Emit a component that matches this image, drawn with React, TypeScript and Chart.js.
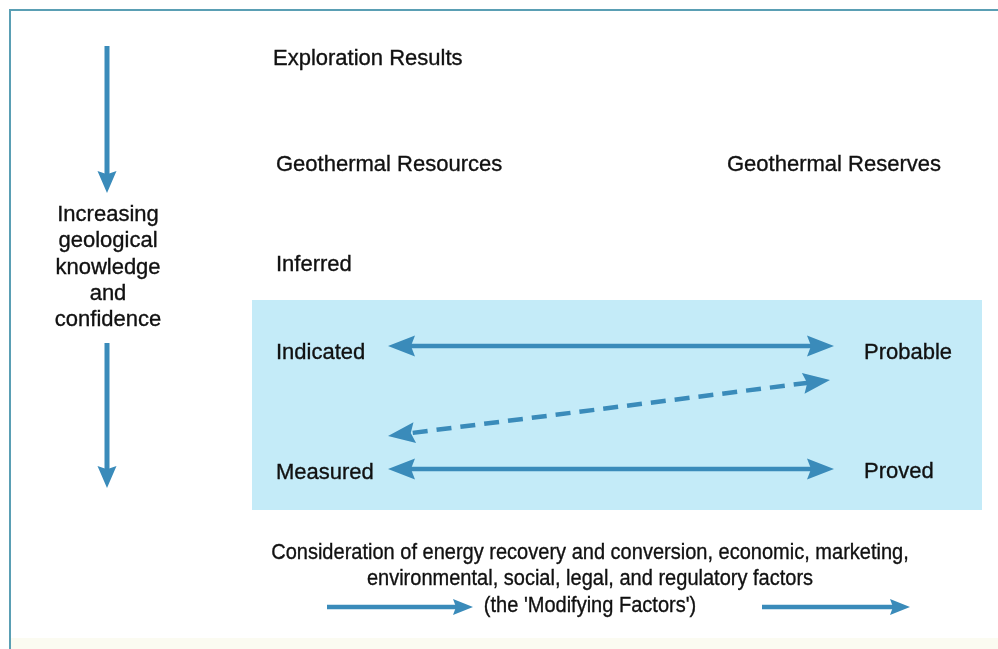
import React, { useEffect, useRef } from "react";
import { Chart, registerables } from "chart.js";

Chart.register(...registerables);

// ---- content ----
const headerLabels = ["Exploration Results"];
const categoryLabels = ["Geothermal Resources", "Geothermal Reserves"];
const resourceLevels = ["Inferred", "Indicated", "Measured"];
const reserveLevels = ["Probable", "Proved"];
const confidenceLines = ["Increasing", "geological", "knowledge", "and", "confidence"];
const modifyingLines = [
  "Consideration of energy recovery and conversion, economic, marketing,",
  "environmental, social, legal, and regulatory factors",
  "(the 'Modifying Factors')",
];

// ---- layout (diagram coordinates, 1 unit = 1 px) ----
const W = 998;
const H = 649;
const BLUE = "#3a8bba";
const BOX = "#c4ebf8";
const FRAME = "#5a9fb4";
const TEXT = "#111111";
const FONT = '"Liberation Sans", Arial, sans-serif';

type Arrow = { x1: number; y1: number; x2: number; y2: number; both: boolean; dashed: boolean; head: number; half: number; w: number };
const arrows: Arrow[] = [
  { x1: 107, y1: 46, x2: 107, y2: 193, both: false, dashed: false, head: 22, half: 9.5, w: 5 },
  { x1: 107, y1: 343, x2: 107, y2: 488, both: false, dashed: false, head: 22, half: 9.5, w: 5 },
  { x1: 388, y1: 346, x2: 834, y2: 346, both: true, dashed: false, head: 27, half: 10.5, w: 4.5 },
  { x1: 388, y1: 469, x2: 834, y2: 469, both: true, dashed: false, head: 27, half: 10.5, w: 4.5 },
  { x1: 830, y1: 380, x2: 388, y2: 436, both: true, dashed: true, head: 27, half: 10.5, w: 4.5 },
  { x1: 327, y1: 607, x2: 473, y2: 607, both: false, dashed: false, head: 20, half: 8, w: 4.5 },
  { x1: 762, y1: 607, x2: 910, y2: 607, both: false, dashed: false, head: 20, half: 8, w: 4.5 },
];

function shaft(a: Arrow) {
  const dx = a.x2 - a.x1;
  const dy = a.y2 - a.y1;
  const len = Math.hypot(dx, dy);
  const ux = dx / len;
  const uy = dy / len;
  const cut = 0.8;
  const s = a.both ? a.head * cut : 0;
  const e = a.head * cut;
  return [
    { x: a.x1 + ux * s, y: a.y1 + uy * s },
    { x: a.x2 - ux * e, y: a.y2 - uy * e },
  ];
}

const diagramPlugin = {
  id: "diagram",
  beforeDatasetsDraw(chart: any) {
    const { ctx, scales } = chart;
    const X = (v: number) => scales.x.getPixelForValue(v);
    const Y = (v: number) => scales.y.getPixelForValue(v);
    ctx.save();
    ctx.fillStyle = "#fbfbf1";
    ctx.fillRect(X(11), Y(638), X(W) - X(11), Y(H) - Y(638));
    ctx.strokeStyle = FRAME;
    ctx.lineWidth = 2;
    ctx.beginPath();
    ctx.moveTo(X(W + 5), Y(10));
    ctx.lineTo(X(10), Y(10));
    ctx.lineTo(X(10), Y(H + 5));
    ctx.stroke();
    ctx.fillStyle = BOX;
    ctx.fillRect(X(252), Y(300), X(982) - X(252), Y(510) - Y(300));
    ctx.restore();
  },
  afterDatasetsDraw(chart: any) {
    const { ctx, scales } = chart;
    const X = (v: number) => scales.x.getPixelForValue(v);
    const Y = (v: number) => scales.y.getPixelForValue(v);
    ctx.save();
    ctx.fillStyle = BLUE;
    const headAt = (tx: number, ty: number, fx: number, fy: number, len: number, half: number) => {
      const dx = tx - fx;
      const dy = ty - fy;
      const l = Math.hypot(dx, dy);
      const ux = dx / l;
      const uy = dy / l;
      const bx = tx - ux * len;
      const by = ty - uy * len;
      const nx = tx - ux * len * 0.85;
      const ny = ty - uy * len * 0.85;
      ctx.beginPath();
      ctx.moveTo(X(tx), Y(ty));
      ctx.lineTo(X(bx - uy * half), Y(by + ux * half));
      ctx.lineTo(X(nx), Y(ny));
      ctx.lineTo(X(bx + uy * half), Y(by - ux * half));
      ctx.closePath();
      ctx.fill();
    };
    arrows.forEach((a) => {
      headAt(a.x2, a.y2, a.x1, a.y1, a.head, a.half);
      if (a.both) headAt(a.x1, a.y1, a.x2, a.y2, a.head, a.half);
    });

    ctx.fillStyle = TEXT;
    ctx.strokeStyle = TEXT;
    ctx.lineWidth = 0.35;
    ctx.textBaseline = "middle";
    const put = (t: string, x: number, y: number, sx = 1) => {
      ctx.save();
      ctx.translate(X(x), Y(y));
      ctx.scale(sx, 1);
      ctx.fillText(t, 0, 0);
      ctx.strokeText(t, 0, 0);
      ctx.restore();
    };
    ctx.font = `22px ${FONT}`;
    ctx.textAlign = "left";
    put(headerLabels[0], 273, 58.5);
    put(categoryLabels[0], 276, 164.5);
    put(categoryLabels[1], 727, 164.5);
    const resY = [264.5, 352.5, 472.5];
    resourceLevels.forEach((t, i) => put(t, 276, resY[i]));
    const resvY = [352.5, 471.5];
    reserveLevels.forEach((t, i) => put(t, 864, resvY[i]));

    ctx.textAlign = "center";
    confidenceLines.forEach((t, i) => put(t, 108, 215 + i * 26.3));

    modifyingLines.forEach((t, i) => put(t, 590, 552.5 + i * 26.5, 0.91));
    ctx.restore();
  },
};

export default function App() {
  const ref = useRef<HTMLCanvasElement | null>(null);
  useEffect(() => {
    if (!ref.current) return;
    const chart = new Chart(ref.current, {
      type: "scatter",
      data: {
        datasets: arrows.map((a) => ({
          data: shaft(a),
          showLine: true,
          borderColor: BLUE,
          backgroundColor: BLUE,
          borderWidth: a.w,
          borderDash: a.dashed ? [15, 9] : [],
          borderCapStyle: "butt" as const,
          pointRadius: 0,
          pointHoverRadius: 0,
        })),
      },
      options: {
        animation: false,
        responsive: false,
        events: [],
        layout: { padding: 0 },
        scales: {
          x: { type: "linear", min: 0, max: W, display: false },
          y: { type: "linear", min: 0, max: H, reverse: true, display: false },
        },
        plugins: { legend: { display: false }, tooltip: { enabled: false }, title: { display: false } },
      },
      plugins: [diagramPlugin],
    });
    return () => chart.destroy();
  }, []);
  return (
    <div style={{ position: "fixed", left: 0, top: 0, width: W, height: H, background: "#ffffff" }}>
      <canvas ref={ref} width={W} height={H} style={{ display: "block", width: W, height: H }} />
    </div>
  );
}
